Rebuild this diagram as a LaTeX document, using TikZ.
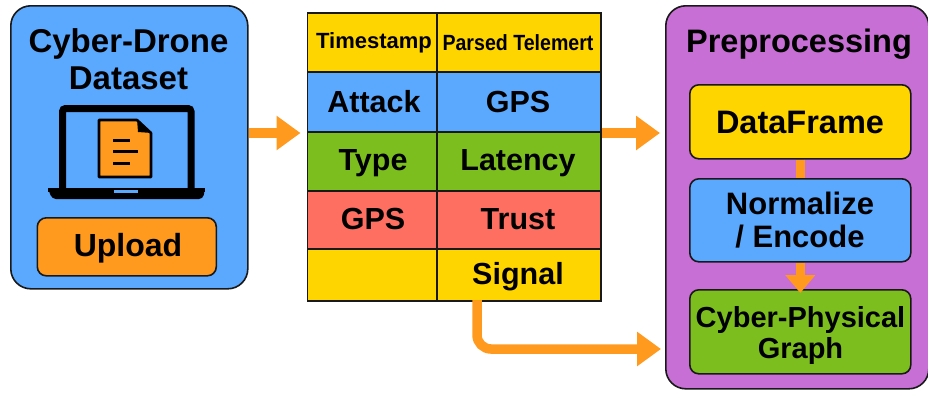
\documentclass[tikz,border=0pt]{standalone}
\usepackage{fontspec}
\setmainfont{Liberation Sans}
\usetikzlibrary{arrows.meta,calc}
\definecolor{cblue}{HTML}{5AA9FF}
\definecolor{corange}{HTML}{FF9A1F}
\definecolor{cyellow}{HTML}{FFD500}
\definecolor{cgreen}{HTML}{7DBE1F}
\definecolor{cred}{HTML}{FF6F61}
\definecolor{cpurple}{HTML}{C86FD6}
\tikzset{
  x=1pt,y=-1pt,
  wh/.style 2 args={minimum width=#1pt,minimum height=#2pt},
  panel/.style={draw=black!90,line width=1.6pt,rounded corners=20pt,anchor=north west,inner sep=0pt},
  box/.style={draw=black!90,line width=1.6pt,rounded corners=9pt,anchor=north west,inner sep=0pt},
  cell/.style={draw=black!90,line width=1.6pt,anchor=north west,inner sep=0pt},
  lab/.style={inner sep=0pt,align=center},
  flow/.style={draw=corange,line width=10.5pt,-{Triangle[length=24pt,width=33pt]}},
}
\newcommand{\fs}[2]{\bfseries\fontsize{#1}{#2}\selectfont}
\begin{document}
\begin{tikzpicture}
\useasboundingbox (0,0) rectangle (928,392);
% left panel
\node[panel,fill=cblue,wh={237}{283}] (dataset) at (10,5) {};
\node[lab,font=\fs{33}{37}] (dtitle) at (128.5,59) {Cyber-Drone\\Dataset};
\node[box,fill=corange,wh={179}{58}] (upload) at (36.5,217) {};
\node[lab,font=\fs{32}{35}] (tupload) at (128,248.5) {Upload};
% laptop
\draw[black,line width=7pt,rounded corners=3pt,fill=cblue] (62.5,188) -- (62.5,108.5) -- (191,108.5) -- (191,188);
\fill[black,rounded corners=4pt] (48,188.5) -- (205,188.5) -- (203,199) -- (52,199) -- cycle;
\fill[black] (48,188) rectangle (205,192);
\fill[cblue] (114,189.5) rectangle (138,193);
\draw[black,line width=2.6pt,fill=corange,line join=round] (99,120) -- (137,120) -- (151,133) -- (151,177) -- (99,177) -- cycle;
\fill[black] (137,119) -- (152,133) -- (138,132) -- cycle;
\draw[black,line width=3pt] (113,140) -- (130,140) (113,151) -- (138,151) (113,163) -- (130,163);
% table
\foreach \n/\x/\y/\w/\h/\c in {
 c11/306.5/12/129.5/59/cyellow, c12/436/12/164/59/cyellow,
 c21/306.5/71/129.5/60/cblue, c22/436/71/164/60/cblue,
 c31/306.5/131/129.5/59/cgreen, c32/436/131/164/59/cgreen,
 c41/306.5/190/129.5/58/cred, c42/436/190/164/58/cred,
 c51/306.5/248/129.5/52/cyellow, c52/436/248/164/52/cyellow}
  \node[cell,fill=\c,wh={\w}{\h}] (\n) at (\x,\y) {};
\node[lab,font=\fs{22}{24}] (t11) at (374,42.5) {Timestamp};
\node[lab,font=\fs{22}{24},xscale=.89] (t12) at (518,42.5) {Parsed Telemert};
\foreach \n/\x/\y/\t in {t21/374/101.5/Attack, t22/518/102/GPS, t31/373/163/Type, t32/518/163/Latency, t41/373/219/GPS, t42/518/219/Trust, t52/518/277/Signal}
  \node[lab,font=\fs{30.5}{33}] (\n) at (\x,\y) {\t};
% right panel
\node[panel,fill=cpurple,wh={263}{383}] (prep) at (665,5) {};
\node[lab,font=\fs{32.5}{37}] (ptitle) at (799,44) {Preprocessing};
\node[box,fill=cyellow,wh={221}{74}] (frame) at (689,84) {};
\node[lab,font=\fs{32.5}{35}] (tframe) at (800,122) {DataFrame};
\node[box,fill=cblue,wh={221}{83}] (norm) at (689,178) {};
\node[lab,font=\fs{31}{33}] (tnorm) at (800,220.5) {Normalize\\/ Encode};
\node[box,fill=cgreen,wh={221}{84}] (graph) at (689,289) {};
\node[lab,font=\fs{29}{31.5}] (tgraph) at (800.5,335.5) {Cyber-Physical\\Graph};
% connectors
\coordinate (t1) at (c21.south west |- 0,133);
\coordinate (t2) at (prep.west |- 0,133);
\coordinate (t3) at (prep.west |- 0,349);
\coordinate (s3) at (477,300);
\draw[flow,shorten >=6pt] (dataset.east |- t1) -- (t1);
\draw[flow,shorten >=5pt] (c52.east |- t2) -- (t2);
\draw[flow,line width=9.5pt,shorten >=4pt,rounded corners=14pt] (s3) -- (477,349) -- (t3);
\draw[corange,line width=9pt] (frame.south) -- (norm.north);
\draw[corange,line width=9pt,-{Triangle[length=18pt,width=29pt]}] (norm.south) -- ([yshift=-4pt]graph.north);
\end{tikzpicture}
\end{document}
